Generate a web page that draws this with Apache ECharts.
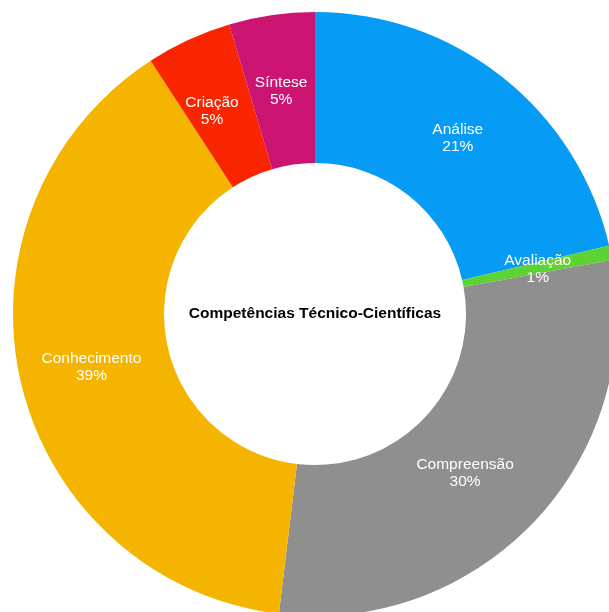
<!DOCTYPE html>
<html>
<head>
<meta charset="utf-8">
<script src="https://cdn.jsdelivr.net/npm/echarts@6/dist/echarts.min.js"></script>
<style>
  html, body { margin: 0; padding: 0; background: #ffffff; }
  #chart { width: 609px; height: 612px; }
</style>
</head>
<body>
<div id="chart"></div>
<script>
// Number of items per competence, clockwise from the top
const categories = ['Análise', 'Avaliação', 'Compreensão', 'Conhecimento', 'Criação', 'Síntese'];
const counts = [28, 1, 39, 51, 6, 6];
const sliceColors = ['#069cf6', '#5cd233', '#8f8f8f', '#f4b400', '#f92400', '#cc1472'];
// small nudges of the inside labels, in px
const labelNudges = [[0, 4], [-2, 2], [-17, 2], [0, 1], [-7, 6], [-1, 4]];
const centerTitle = 'Competências Técnico-Científicas';

const chart = echarts.init(document.getElementById('chart'), null, { renderer: 'canvas' });

const data = categories.map((name, i) => ({
  name: name,
  value: counts[i],
  itemStyle: { color: sliceColors[i] },
  label: { offset: labelNudges[i] }
}));

chart.setOption({
  animation: false,
  backgroundColor: '#ffffff',
  graphic: [{
    type: 'text',
    x: 315,
    y: 314,
    style: {
      text: centerTitle,
      fill: '#000000',
      font: 'bold 15.5px "Liberation Sans", Arial, sans-serif',
      textAlign: 'center',
      textVerticalAlign: 'middle'
    }
  }],
  series: [{
    type: 'pie',
    center: [315, 314],
    radius: [151, 302],
    startAngle: 90,
    clockwise: true,
    avoidLabelOverlap: false,
    percentPrecision: 2,
    itemStyle: { borderWidth: 0 },
    label: {
      show: true,
      position: 'inside',
      // share of the total, rounded to whole percent
      formatter: p => p.name + '\n' + Math.round(p.percent) + '%',
      color: '#ffffff',
      fontFamily: '"Liberation Sans", Arial, sans-serif',
      fontSize: 15.5,
      lineHeight: 17,
      align: 'center'
    },
    labelLine: { show: false },
    emphasis: { disabled: true },
    data: data
  }]
});
</script>
</body>
</html>
